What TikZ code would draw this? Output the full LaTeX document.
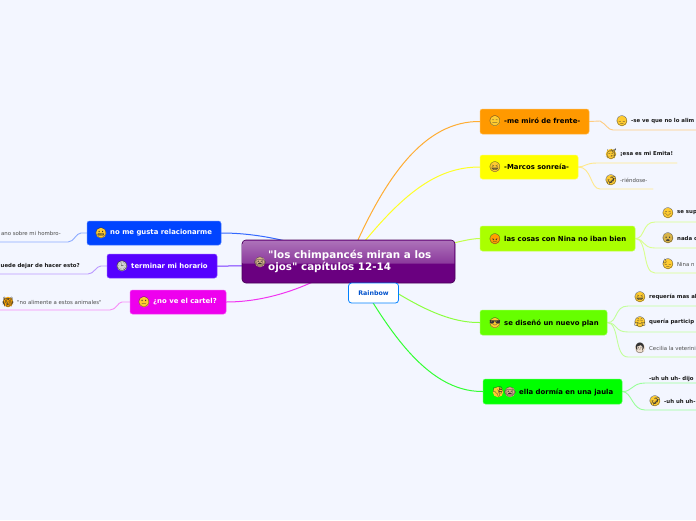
\documentclass[tikz,border=0pt]{standalone}
\usepackage{fontspec}
\setmainfont[Ligatures=TeXOff]{DejaVu Sans}
\newfontfamily\emofont{Noto Emoji}
\usetikzlibrary{backgrounds}
\definecolor{bgc}{HTML}{F3F6FF}
\tikzset{
 x=1pt,y=-1pt,
 topicbox/.style={rounded corners=2.5pt,inner sep=0pt,draw=#1!70!white,line width=.5pt,fill=#1},
 topictext/.style={anchor=west,inner sep=0pt,text=black,font=\fontsize{6.9}{8}\selectfont\bfseries},
 whitetext/.style={anchor=west,inner sep=0pt,text=white,font=\fontsize{6.9}{8}\selectfont\bfseries},
 leafb/.style={anchor=west,inner sep=0pt,text=black!90,font=\fontsize{5.4}{6}\selectfont\bfseries},
 leafr/.style={anchor=west,inner sep=0pt,text=black!70,font=\fontsize{5.4}{6}\selectfont},
 emo/.style={circle,inner sep=0pt,minimum size=#1,fill=emoy},
 emo/.default=10.5pt,
 glyph/.style={inner sep=0pt,text=black!80,font=\emofont\fontsize{10}{10}\selectfont},
 main/.style={line width=1pt,line cap=round},
 sub/.style={line width=.9pt,line cap=round},
}
\definecolor{emoy}{HTML}{FFCB30}
\definecolor{orangeT}{HTML}{FF9900}
\definecolor{yellowT}{HTML}{FFFF00}
\definecolor{limeT}{HTML}{AAFF00}
\definecolor{greenA}{HTML}{66FF00}
\definecolor{greenB}{HTML}{00FF00}
\definecolor{blueT}{HTML}{0044FF}
\definecolor{violetT}{HTML}{5500FF}
\definecolor{magT}{HTML}{EE00EE}
\definecolor{rootD}{HTML}{6A0080}
\newcommand{\emoji}[5][emoy]{% fill, name, x, y, glyph
 \node[emo,fill=#1] (#2) at (#3,#4) {};
 \node[glyph] (#2g) at (#3,#4) {#5};
}
\begin{document}
\begin{tikzpicture}
\useasboundingbox (0,0) rectangle (696,520);
\clip (0,0) rectangle (696,520);
% root
\node[rounded corners=4pt,draw=rootD!70!black,line width=.7pt,fill=rootD,minimum width=213pt,minimum height=43pt,inner sep=0pt] (root) at (348.5,261.5) {};
\shade[top color=rootD!55!white,bottom color=rootD!78!white] (242.6,263.5) {[rounded corners=3.4pt] -- (242.6,240.5) -- (454.4,240.5)} -- (454.4,263.5) -- cycle;
\emoji[brown!60!white]{rootic}{260}{262}{🐵}
\node[anchor=west,align=left,inner sep=0pt,text=white,font=\fontsize{10.35}{12.5}\selectfont\bfseries] (roottext) at (268,261.5) {"los chimpancés miran a los\\ojos" capítulos 12-14};
% Rainbow
\node[rounded corners=3pt,draw=blue!50!cyan,line width=.8pt,fill=white,minimum width=50pt,minimum height=20pt,inner sep=0pt,text=blue!60!cyan!80!black,font=\fontsize{6.3}{8}\selectfont\bfseries] (rainbow) at (373.5,293) {Rainbow};
% right topics
\node[topicbox=orangeT,minimum width=109pt,minimum height=25pt] (t1) at (534.5,121.5) {};
\emoji{t1i}{495}{121}{😑}
\node[topictext] (t1t) at (504,121) {-me miró de frente-};
\node[topicbox=yellowT,minimum width=98pt,minimum height=24pt] (t2) at (529,167) {};
\emoji{t2i}{495}{167}{😆}
\node[topictext] (t2t) at (504,167) {-Marcos sonreía-};
\node[topicbox=limeT,minimum width=155pt,minimum height=25pt] (t3) at (557.5,238.5) {};
\emoji[orange!75!yellow]{t3i}{495}{239}{😠}
\node[topictext] (t3t) at (504,239) {las cosas con Nina no iban bien};
\node[topicbox=greenA,minimum width=127pt,minimum height=25pt] (t4) at (543.5,322.5) {};
\emoji{t4i}{495}{323}{😎}
\node[topictext] (t4t) at (504,323) {se diseñó un nuevo plan};
\node[topicbox=greenB,minimum width=139pt,minimum height=25pt] (t5) at (552.5,391.5) {};
\emoji{t5i}{498}{392}{👎}
\emoji[brown!60!white]{t5j}{510}{392}{🐵}
\node[topictext] (t5t) at (519,392) {ella dormía en una jaula};
% left topics
\node[topicbox=blueT,minimum width=134pt,minimum height=24pt] (l1) at (154,233) {};
\emoji{l1i}{101}{233}{😬}
\node[whitetext] (l1t) at (110,233) {no me gusta relacionarme};
\node[topicbox=violetT,minimum width=110pt,minimum height=24pt] (l2) at (162,266) {};
\emoji[gray!35!white]{l2i}{122}{266}{🕒}
\node[whitetext] (l2t) at (131,266) {terminar mi horario};
\node[topicbox=magT,minimum width=96pt,minimum height=24pt] (l3) at (178,302) {};
\emoji{l3i}{144}{302}{🙁}
\node[whitetext] (l3t) at (153,302) {¿no ve el cartel?};
% leaves
\emoji{a1i}{622}{121}{😞}
\node[leafb] (a1) at (631,121) {-se ve que no lo alim};
\emoji{b1i}{611}{154}{🥳}
\node[leafb] (b1) at (620,154) {¡esa es mi Emita!};
\emoji{b2i}{611}{180}{🤣}
\node[leafr] (b2) at (620,180) {-riéndose-};
\emoji{c1i}{668}{213}{😊}
\node[leafb] (c1) at (677,213) {se sup};
\emoji[emoy!70!gray]{c2i}{668}{238}{😦}
\node[leafb] (c2) at (677,238) {nada c};
\emoji{c3i}{668}{264}{😓}
\node[leafr] (c3) at (677,264) {Nina n};
\emoji{d1i}{640}{297}{😆}
\node[leafb] (d1) at (649,297) {requería mas al};
\emoji{d2i}{640}{322}{😤}
\node[leafb] (d2) at (649,322) {quería particip};
\emoji[brown!25!white]{d3i}{640}{348}{👩}
\node[leafr] (d3) at (649,348) {Cecilia la veterini};
\node[leafb] (e1) at (649,379) {-uh uh uh- dijo};
\emoji{e2i}{655}{401}{🤣}
\node[leafb] (e2) at (664,401) {-uh uh uh-};
\node[leafr,anchor=east] (f1) at (61,233) {ano sobre mi hombro-};
\node[leafb,anchor=east] (f2) at (80,266) {uede dejar de hacer esto?};
\emoji[orange!70!yellow]{f3i}{8}{302}{🙀}
\node[leafr] (f3) at (17,302) {"no alimente a estos animales"};
% line ends
\coordinate (ea) at (696,130);
\coordinate (eb1) at (677,163); \coordinate (eb2) at (653,189);
\coordinate (ec1) at (696,222); \coordinate (ec2) at (696,248); \coordinate (ec3) at (696,273);
\coordinate (ed1) at (696,306); \coordinate (ed2) at (696,332); \coordinate (ed3) at (696,357);
\coordinate (ee1) at (696,383); \coordinate (ee2) at (696,410);
\coordinate (ef1) at (0,242); \coordinate (ef2) at (0,274); \coordinate (ef3) at (0,310);
\begin{scope}[on background layer]
\fill[bgc] (0,0) rectangle (696,520);
% main connectors
\draw[main,draw=orangeT!80!white] (root.center) .. controls (385,175) and (425,121) .. (t1.west);
\draw[main,draw=yellowT!85!white] (root.center) .. controls (400,195) and (435,167) .. (t2.west);
\draw[main,draw=limeT!70!white] (root.center) .. controls (440,250) and (460,239) .. (t3.west);
\draw[main,draw=greenA!75!white] (root.center) .. controls (400,296) and (440,323) .. (t4.west);
\draw[main,draw=greenB!80!white] (root.center) .. controls (385,325) and (425,392) .. (t5.west);
\draw[main,draw=blueT!80!white] (root.center) .. controls (295,240) and (255,233) .. (l1.east);
\draw[main,draw=violetT!80!white] (root.center) .. controls (290,266) and (250,266) .. (l2.east);
\draw[main,draw=magT!80!white] (root.center) .. controls (315,285) and (270,302) .. (l3.east);
% sub connectors
\draw[sub,draw=orangeT!50!white] (t1.east) -- (600,121) .. controls (606,124) and (608,130) .. (613,130) -- (ea);
\draw[sub,draw=yellowT!60!orange!45!white] (t2.east) .. controls (585,167) and (585,163) .. (597,163) -- (eb1);
\draw[sub,draw=yellowT!60!orange!45!white] (t2.east) .. controls (592,167) and (590,189) .. (600,189) -- (eb2);
\draw[sub,draw=limeT!45!white] (t3.east) .. controls (645,239) and (642,222) .. (655,222) -- (ec1);
\draw[sub,draw=limeT!45!white] (t3.east) .. controls (645,239) and (642,248) .. (655,248) -- (ec2);
\draw[sub,draw=limeT!45!white] (t3.east) .. controls (648,239) and (642,273) .. (655,273) -- (ec3);
\draw[sub,draw=greenA!40!white] (t4.east) .. controls (618,323) and (614,306) .. (628,306) -- (ed1);
\draw[sub,draw=greenA!40!white] (t4.east) .. controls (618,323) and (614,332) .. (628,332) -- (ed2);
\draw[sub,draw=greenA!40!white] (t4.east) .. controls (620,323) and (614,357) .. (628,357) -- (ed3);
\draw[sub,draw=greenB!40!white] (t5.east) .. controls (632,392) and (632,383) .. (645,383) -- (ee1);
\draw[sub,draw=greenB!40!white] (t5.east) .. controls (632,392) and (632,410) .. (645,410) -- (ee2);
\draw[sub,draw=blueT!45!white] (l1.west) -- (81,233) .. controls (76,233) and (74,242) .. (68,242) -- (ef1);
\draw[sub,draw=violetT!40!white] (l2.west) -- (101,266) .. controls (96,266) and (94,274) .. (88,274) -- (ef2);
\draw[sub,draw=magT!45!white] (l3.west) -- (122,302) .. controls (118,302) and (116,310) .. (110,310) -- (ef3);
\end{scope}
\end{tikzpicture}
\end{document}
